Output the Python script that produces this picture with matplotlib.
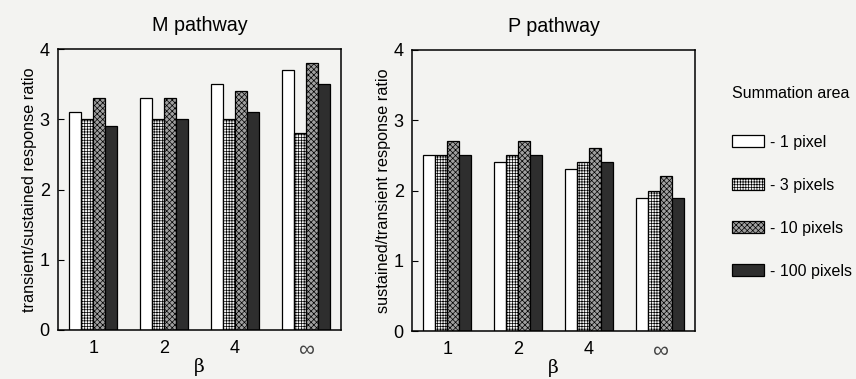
import matplotlib
matplotlib.use("Agg")
import matplotlib.pyplot as plt
import numpy as np

plt.rcParams['font.family'] = ['Liberation Sans', 'DejaVu Sans']
plt.rcParams['hatch.linewidth'] = 0.5

beta_labels = ['1', '2', '4', '∞']
series_labels = ['- 1 pixel', '- 3 pixels', '- 10 pixels', '- 100 pixels']
m_values = [
    [3.1, 3.3, 3.5, 3.7],   # 1 pixel
    [3.0, 3.0, 3.0, 2.8],   # 3 pixels
    [3.3, 3.3, 3.4, 3.8],   # 10 pixels
    [2.9, 3.0, 3.1, 3.5],   # 100 pixels
]
p_values = [
    [2.5, 2.4, 2.3, 1.9],
    [2.5, 2.5, 2.4, 2.0],
    [2.7, 2.7, 2.6, 2.2],
    [2.5, 2.5, 2.4, 1.9],
]
styles = [
    dict(facecolor='white', hatch=None),
    dict(facecolor='#f4f4f4', hatch='++++++'),
    dict(facecolor='#a0a0a0', hatch='xxxxxx'),
    dict(facecolor='#2e2e2e', hatch=None),
]

bg = '#f3f3f1'
fig = plt.figure(figsize=(8.56, 3.79), dpi=100, facecolor=bg)
W, H = 856, 379

def add_ax(l, r, t, b):
    return fig.add_axes([l / W, 1 - b / H, (r - l) / W, (b - t) / H])

ax1 = add_ax(58, 341, 49, 330)
ax2 = add_ax(412, 695, 50, 331)

bw = 0.17
x = np.arange(len(beta_labels))
handles = []
for ax, vals, title, ylabel in [
    (ax1, m_values, 'M pathway', 'transient/sustained response ratio'),
    (ax2, p_values, 'P pathway', 'sustained/transient response ratio'),
]:
    ax.set_facecolor(bg)
    hs = []
    for i, (v, st) in enumerate(zip(vals, styles)):
        b = ax.bar(x + (i - 1.5) * bw, v, bw, facecolor=st['facecolor'],
                   hatch=st['hatch'], edgecolor='black', linewidth=0.9,
                   label=series_labels[i])
        hs.append(b)
    handles = hs
    ax.set_xlim(-0.5, 3.5)
    ax.set_ylim(0, 4)
    ax.set_yticks([0, 1, 2, 3, 4])
    ax.set_xticks(x)
    ax.set_xticklabels(beta_labels)
    ax.tick_params(axis='y', direction='in', length=4, labelsize=13, pad=6)
    ax.tick_params(axis='x', length=0, labelsize=13, pad=7)
    ax.get_xticklabels()[3].set_fontsize(16)
    ax.get_xticklabels()[3].set_color('#444444')
    ax.set_title(title, fontsize=14.2, pad=13)
    ax.set_ylabel(ylabel, fontsize=11.7, labelpad=2)
    ax.set_xlabel('β', fontsize=13.5, family='DejaVu Serif', labelpad=-2)
    for s in ax.spines.values():
        s.set_linewidth(1.1)

leg = fig.legend(handles=handles, labels=series_labels, title='Summation area',
                 loc='upper left', bbox_to_anchor=(718 / W, 1 - 72 / H),
                 frameon=False, fontsize=11.5, title_fontsize=11.5,
                 handlelength=2.0, handleheight=0.75, labelspacing=1.75,
                 handletextpad=0.35, alignment='left')
leg._legend_box.sep = 24

fig.savefig('out.png', dpi=100, facecolor=bg)
